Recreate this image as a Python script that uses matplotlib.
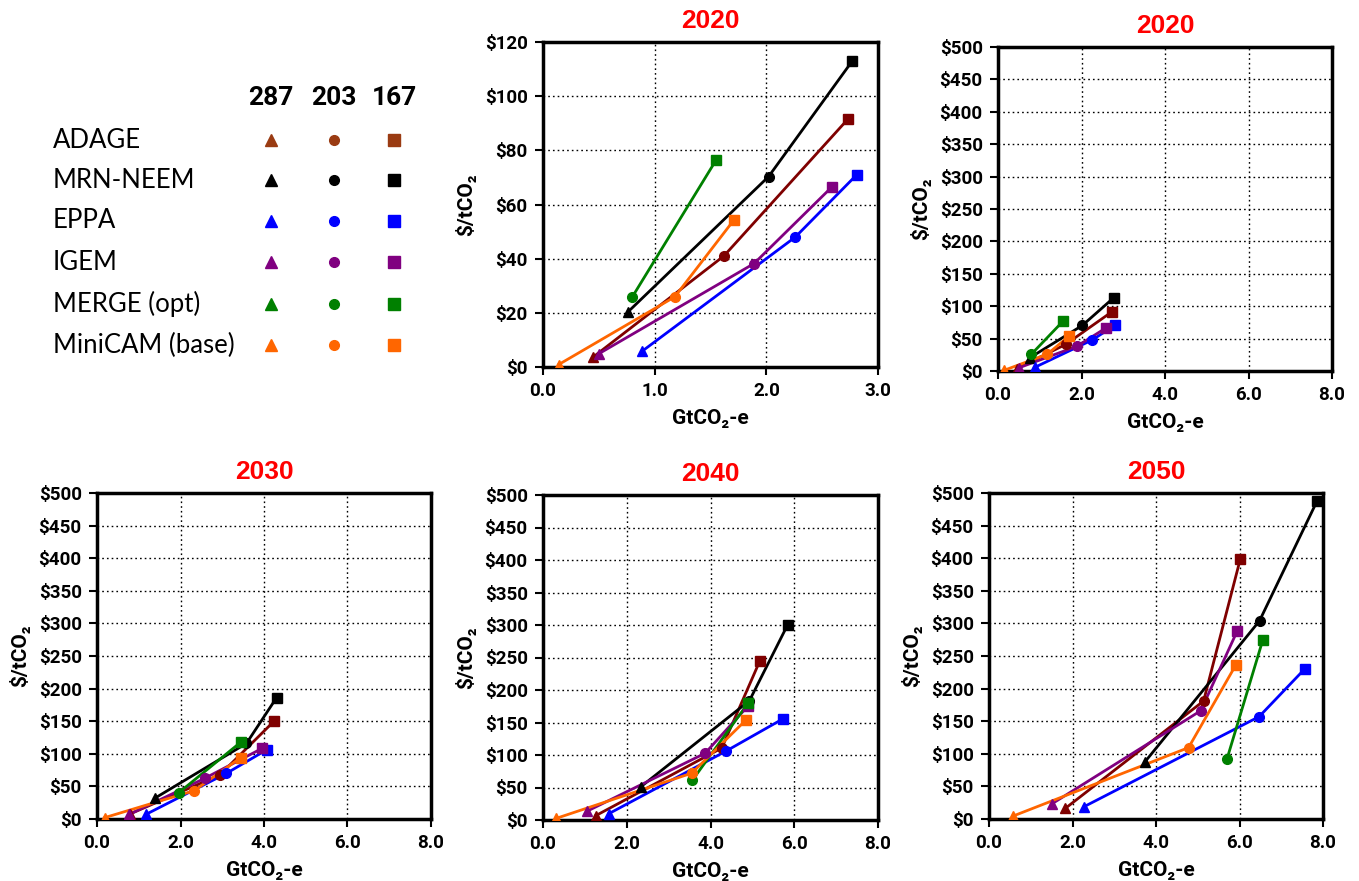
import numpy as np
import matplotlib
matplotlib.use('Agg')
import matplotlib.pyplot as plt
from matplotlib.ticker import FuncFormatter

nan = np.nan

# models and scenarios (287, 203, 167)
models = ['ADAGE', 'MRN-NEEM', 'EPPA', 'IGEM', 'MERGE (opt)', 'MiniCAM (base)']
scenarios = ['287', '203', '167']
line_colors = ['#7f0000', '#000000', '#0000ff', '#800080', '#008000', '#ff6600']
legend_colors = ['#9a3b12', '#000000', '#0000ff', '#800080', '#008000', '#ff6600']
markers = ['^', 'o', 's']

# abatement (GtCO2-e) and price ($/tCO2), one row per model
x_2020 = [[0.45, 1.62, 2.73], [0.76, 2.02, 2.77], [0.89, 2.26, 2.81],
          [0.50, 1.89, 2.59], [nan, 0.80, 1.55], [0.14, 1.18, 1.71]]
y_2020 = [[3.7, 41, 91.5], [20.3, 70.3, 113], [5.9, 48, 71],
          [4.9, 38.2, 66.6], [nan, 25.9, 76.4], [0.9, 25.9, 54.3]]

x_2030 = [[0.80, 2.94, 4.24], [1.38, 3.58, 4.30], [1.17, 3.10, 4.06],
          [0.77, 2.58, 3.96], [nan, 1.96, 3.46], [0.18, 2.33, 3.44]]
y_2030 = [[8, 67.5, 150], [31.7, 116, 186], [7, 70, 106],
          [7, 62.4, 108.5], [nan, 40.4, 118.7], [2, 43.5, 94]]

x_2040 = [[1.26, 4.27, 5.18], [2.34, 4.93, 5.84], [1.58, 4.37, 5.74],
          [1.06, 3.87, 4.89], [nan, 3.57, 4.90], [0.32, 3.55, 4.85]]
y_2040 = [[6.7, 110.8, 245], [51.3, 183.6, 300], [10, 106, 156],
          [13.8, 102.6, 175], [nan, 61.5, 180], [2.6, 72, 154]]

x_2050 = [[1.83, 5.14, 6.02], [3.74, 6.48, 7.86], [2.28, 6.47, 7.56],
          [1.50, 5.07, 5.94], [nan, 5.70, 6.56], [0.58, 4.78, 5.91]]
y_2050 = [[16.4, 181, 399], [88, 304, 488], [19, 157, 230],
          [23, 166, 287.6], [nan, 92, 275], [4.6, 109.5, 236]]

W, H = 1359, 881
fig = plt.figure(figsize=(W / 100, H / 100), dpi=100)

FAM = ['Lato', 'DejaVu Sans']
BOLD_FAM = ['Roboto', 'DejaVu Sans']


def add_panel(px_left, px_right, px_top, px_bottom):
    rect = [px_left / W, 1 - px_bottom / H,
            (px_right - px_left) / W, (px_bottom - px_top) / H]
    return fig.add_axes(rect)


def draw_panel(ax, xs, ys, title, xmax, xstep, ymax, ystep):
    for i in range(len(models)):
        x = np.array(xs[i], dtype=float)
        y = np.array(ys[i], dtype=float)
        ok = ~np.isnan(x)
        ax.plot(x[ok], y[ok], color=line_colors[i], lw=2.0, zorder=3)
        for j in range(3):
            if ok[j]:
                ax.plot(x[j], y[j], marker=markers[j], color=line_colors[i],
                        ms=7.5 if j == 2 else 7, ls='none', zorder=4)
    ax.set_xlim(0, xmax)
    ax.set_ylim(0, ymax)
    ax.set_xticks(np.arange(0, xmax + 0.01, xstep))
    ax.set_yticks(np.arange(0, ymax + 0.01, ystep))
    ax.xaxis.set_major_formatter(FuncFormatter(lambda v, p: '%.1f' % v))
    ax.yaxis.set_major_formatter(FuncFormatter(lambda v, p: '$%d' % v))
    for lab in ax.get_xticklabels() + ax.get_yticklabels():
        lab.set_fontfamily(BOLD_FAM)
        lab.set_fontsize(13.5)
        lab.set_fontweight('bold')
    ax.tick_params(direction='out', length=6, width=1.5, pad=5)
    ax.grid(True, color='black', linestyle=(0, (1.2, 2.2)), lw=1.0)
    ax.set_axisbelow(True)
    for s in ax.spines.values():
        s.set_linewidth(2.5)
    ax.set_xlabel('GtCO₂-e', labelpad=6, family=BOLD_FAM, fontsize=15,
                  fontweight='bold')
    ax.set_ylabel('$/tCO₂', labelpad=6, family=BOLD_FAM, fontsize=15,
                  fontweight='bold')
    ax.set_title(title, color='#ff0000', fontsize=19, fontweight='bold',
                 family='Liberation Sans', pad=10)


ax1 = add_panel(543, 878, 42, 367)
draw_panel(ax1, x_2020, y_2020, '2020', 3.0, 1.0, 120, 20)
ax2 = add_panel(998, 1332, 47, 371)
draw_panel(ax2, x_2020, y_2020, '2020', 8.0, 2.0, 500, 50)
ax3 = add_panel(97, 431, 493, 819)
draw_panel(ax3, x_2030, y_2030, '2030', 8.0, 2.0, 500, 50)
ax4 = add_panel(543, 878, 495, 820)
draw_panel(ax4, x_2040, y_2040, '2040', 8.0, 2.0, 500, 50)
ax5 = add_panel(989, 1323, 493, 819)
draw_panel(ax5, x_2050, y_2050, '2050', 8.0, 2.0, 500, 50)

# legend table in the top-left corner
col_x = [271, 334, 394]
row_y = [140, 180, 221, 262, 304, 345]
for j, s in enumerate(scenarios):
    fig.text(col_x[j] / W, 1 - 98 / H, s, ha='center', va='center',
             fontsize=19, fontweight='bold', family=BOLD_FAM)
for i, m in enumerate(models):
    fig.text(53 / W, 1 - row_y[i] / H, m, ha='left', va='center',
             fontsize=18.5, family=FAM)
    for j in range(3):
        fig.lines.append(plt.Line2D([col_x[j] / W], [1 - row_y[i] / H],
                                    transform=fig.transFigure,
                                    marker=markers[j], color=legend_colors[i],
                                    ms=8 if j != 1 else 7, ls='none'))

fig.savefig('out.png', dpi=100)
